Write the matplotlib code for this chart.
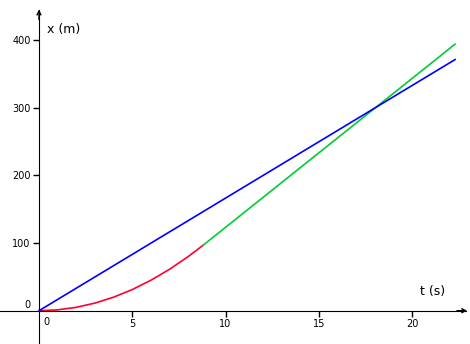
import matplotlib.pyplot as plt

# data
t_red = [0, 1, 2, 3, 4, 5, 6, 7, 8, 8.8]
x_red = [0, 1.25, 5, 11.25, 20, 31.25, 45, 61.25, 80, 96.8]
t_green = [8.8, 22.3]
x_green = [96.8, 393.8]
t_blue = [0, 22.3]
x_blue = [0, 371]
xticks = [5, 10, 15, 20]
yticks = [100, 200, 300, 400]

fig = plt.figure(figsize=(4.7, 3.44), dpi=100)
ax = fig.add_axes([0, 0, 1, 1])
ax.set_xlim(-2.09, 23.1)
ax.set_ylim(-49.2, 459)

for s in ['top', 'right']:
    ax.spines[s].set_visible(False)
ax.spines['left'].set_position('zero')
ax.spines['bottom'].set_position('zero')
ax.spines['left'].set_bounds(-49.2, 444)
ax.spines['bottom'].set_bounds(-2.09, 22.9)

ax.set_xticks(xticks)
ax.set_yticks(yticks)
ax.set_xticklabels([str(v) for v in xticks])
ax.set_yticklabels([str(v) for v in yticks])
ax.tick_params(axis='both', direction='out', length=4, width=1, labelsize=7, pad=2)

# arrowheads (small open chevrons)
ax.annotate('', xy=(0, 445), xytext=(0, 430),
            arrowprops=dict(arrowstyle='->', lw=1, color='black', shrinkA=0, shrinkB=0,
                            mutation_scale=7))
ax.annotate('', xy=(22.95, 0), xytext=(22.4, 0),
            arrowprops=dict(arrowstyle='->', lw=1, color='black', shrinkA=0, shrinkB=0,
                            mutation_scale=7))

ax.plot(t_red, x_red, color='#ff0033', lw=1.2)
ax.plot(t_green, x_green, color='#00cc33', lw=1.2)
ax.plot(t_blue, x_blue, color='#0000ff', lw=1.2)

ax.text(-0.45, 8, '0', fontsize=7, ha='right', va='center')
ax.text(0.4, -10, '0', fontsize=7, ha='center', va='top')
ax.text(0.45, 415, 'x (m)', fontsize=9, ha='left', va='center')
ax.text(20.4, 28, 't (s)', fontsize=9, ha='left', va='center')

plt.savefig('out.png', dpi=100)
